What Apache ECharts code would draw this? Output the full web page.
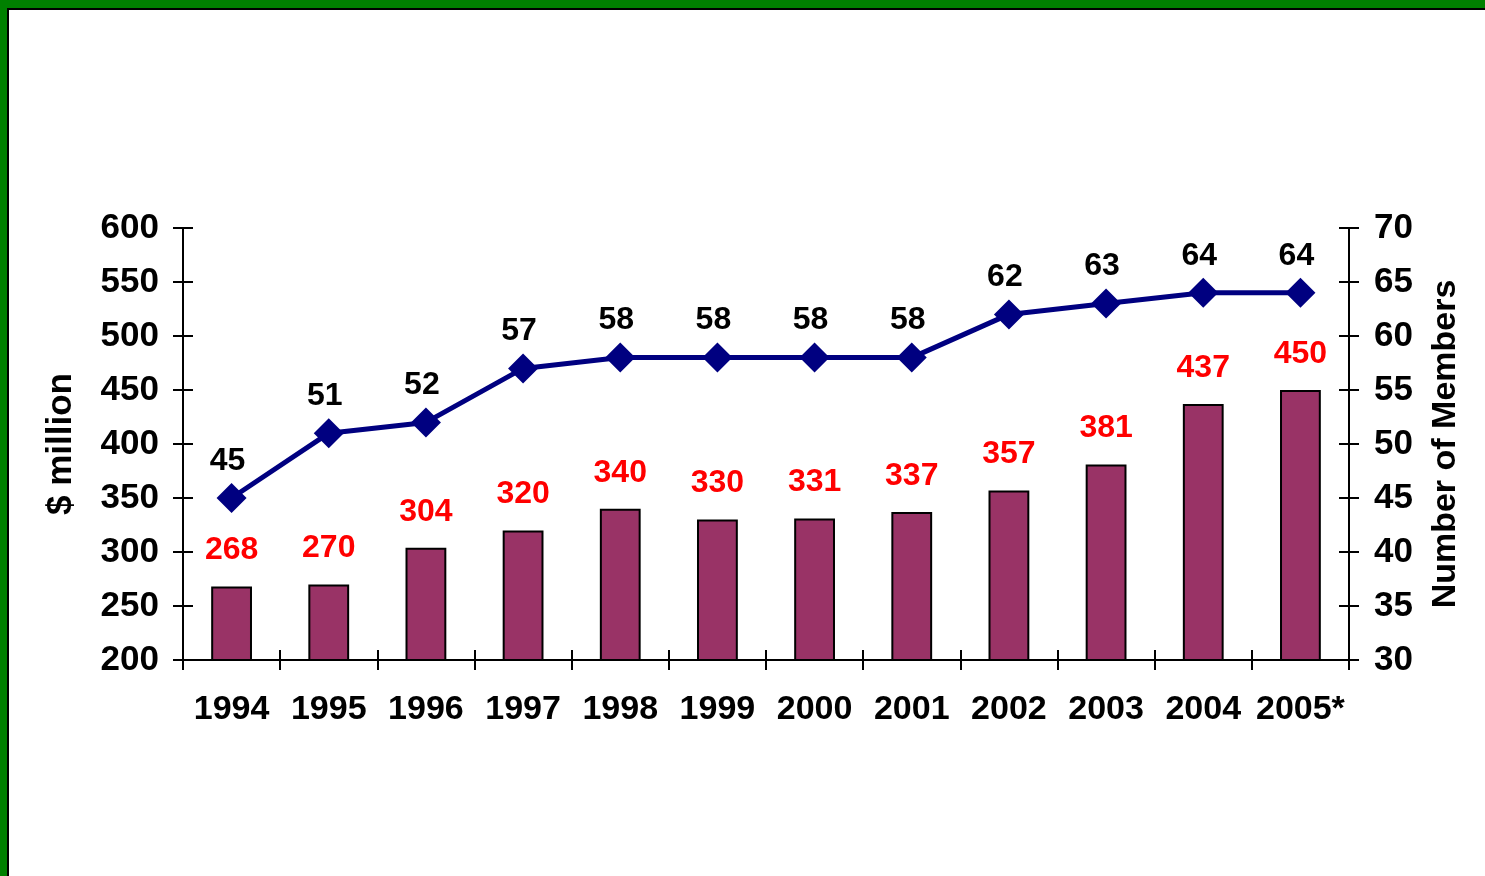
<!DOCTYPE html>
<html>
<head>
<meta charset="utf-8">
<script src="https://cdn.jsdelivr.net/npm/echarts@6/dist/echarts.min.js"></script>
<style>
html,body{margin:0;padding:0;width:1485px;height:876px;overflow:hidden;background:#fff;}
#frame{position:absolute;left:0;top:0;width:1485px;height:876px;box-sizing:border-box;border-top:8px solid #008000;border-left:7px solid #008000;}
#inner{position:absolute;left:0;top:0;right:0;bottom:0;border-top:2px solid #000;border-left:2px solid #000;}
#chart{position:absolute;left:0;top:0;width:1485px;height:876px;}
</style>
</head>
<body>
<div id="frame"><div id="inner"></div></div>
<div id="chart"></div>
<script>
const categories = ['1994','1995','1996','1997','1998','1999','2000','2001','2002','2003','2004','2005*'];
const fundsMillion = [268,270,304,320,340,330,331,337,357,381,437,450];
const members = [45,51,52,57,58,58,58,58,62,63,64,64];

const FONT = '"Liberation Sans", Arial, sans-serif';
const chart = echarts.init(document.getElementById('chart'), null, {renderer:'canvas'});
const axisLine = {show:true, lineStyle:{color:'#000', width:2}};
const tickLbl = {fontFamily:FONT, fontWeight:'bold', fontSize:35, color:'#000'};

chart.setOption({
  animation:false,
  backgroundColor:'transparent',
  grid:{left:183, right:136, top:228, bottom:216, containLabel:false},
  xAxis:[
    {type:'category', data:categories, position:'bottom',
     axisLine:axisLine,
     axisTick:{show:true, length:10, inside:false, interval:0, lineStyle:{color:'#000', width:2}},
     axisLabel:{interval:0, margin:33, fontFamily:FONT, fontWeight:'bold', fontSize:34, color:'#000'}},
    {type:'category', data:categories, position:'bottom',
     axisLine:{show:false},
     axisTick:{show:true, length:10, inside:true, interval:0, lineStyle:{color:'#000', width:2}},
     axisLabel:{show:false}}
  ],
  yAxis:[
    {type:'value', min:200, max:600, interval:50, position:'left',
     name:'$ million', nameLocation:'middle', nameRotate:90, nameGap:104,
     nameTextStyle:{fontFamily:FONT, fontWeight:'bold', fontSize:35, color:'#000'},
     axisLine:axisLine, splitLine:{show:false},
     axisTick:{show:true, length:10, lineStyle:{color:'#000', width:2}},
     axisLabel:Object.assign({margin:24}, tickLbl)},
    {type:'value', min:30, max:70, interval:5, position:'right',
     name:'Number of Members', nameLocation:'middle', nameRotate:90, nameGap:80,
     nameTextStyle:{fontFamily:FONT, fontWeight:'bold', fontSize:34, color:'#000'},
     axisLine:axisLine, splitLine:{show:false},
     axisTick:{show:true, length:10, lineStyle:{color:'#000', width:2}},
     axisLabel:Object.assign({margin:25}, tickLbl)},
    {type:'value', min:200, max:600, interval:50, position:'left',
     axisLine:{show:false}, splitLine:{show:false}, axisLabel:{show:false},
     axisTick:{show:true, inside:true, length:10, lineStyle:{color:'#000', width:2}}},
    {type:'value', min:30, max:70, interval:5, position:'right',
     axisLine:{show:false}, splitLine:{show:false}, axisLabel:{show:false},
     axisTick:{show:true, inside:true, length:10, lineStyle:{color:'#000', width:2}}}
  ],
  series:[
    {type:'bar', data:fundsMillion, xAxisIndex:0, yAxisIndex:0, barWidth:'42%',
     itemStyle:{color:'#993366', borderColor:'#000', borderWidth:2},
     label:{show:true, position:'top', distance:20, fontFamily:FONT, fontWeight:'bold', fontSize:32, color:'#ff0000'}},
    {type:'line', data:members, xAxisIndex:0, yAxisIndex:1,
     symbol:'diamond', symbolSize:[30,30],
     lineStyle:{color:'#000080', width:5},
     itemStyle:{color:'#000080'},
     label:{show:true, position:'top', distance:6, offset:[-4,0], fontFamily:FONT, fontWeight:'bold', fontSize:32, color:'#000'}}
  ]
});
</script>
</body>
</html>
